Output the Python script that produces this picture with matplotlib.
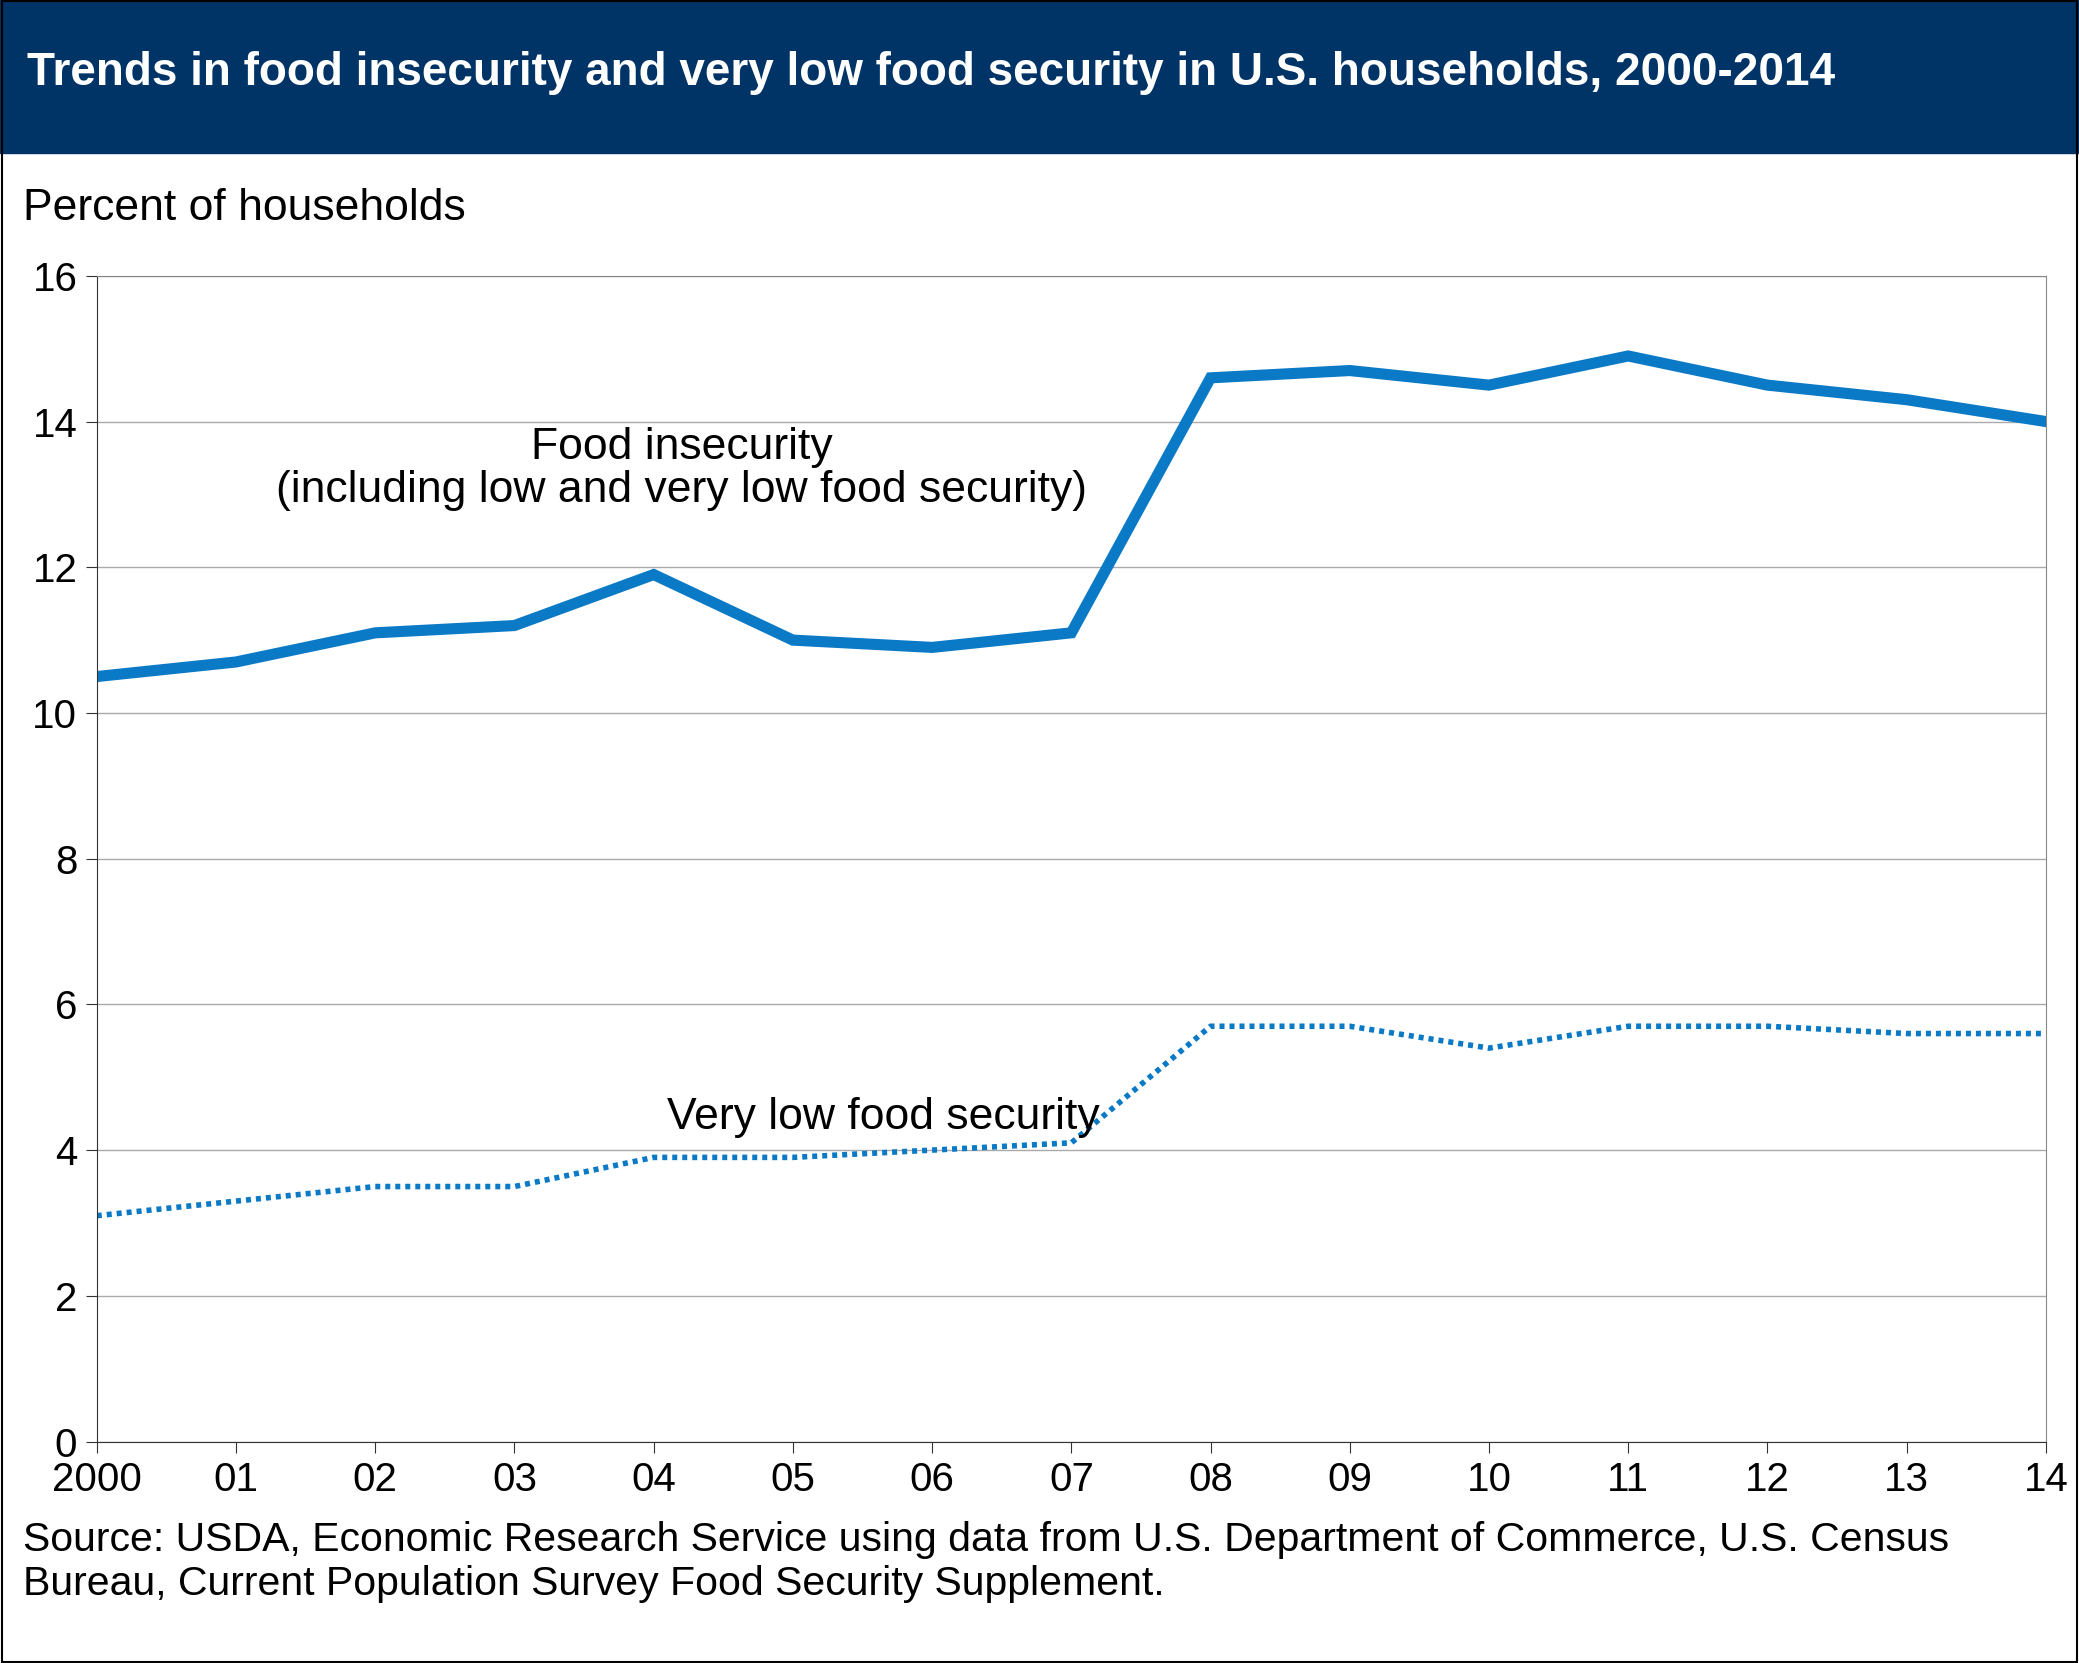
import matplotlib.pyplot as plt
from matplotlib.patches import Rectangle

plt.rcParams['font.family'] = ['Liberation Sans', 'DejaVu Sans']

years = list(range(2000, 2015))
year_labels = ['2000', '01', '02', '03', '04', '05', '06', '07', '08', '09',
               '10', '11', '12', '13', '14']
food_insecurity = [10.5, 10.7, 11.1, 11.2, 11.9, 11.0, 10.9, 11.1, 14.6, 14.7,
                   14.5, 14.9, 14.5, 14.3, 14.0]
very_low = [3.1, 3.3, 3.5, 3.5, 3.9, 3.9, 4.0, 4.1, 5.7, 5.7,
            5.4, 5.7, 5.7, 5.6, 5.6]

blue = '#0a79c6'
fig = plt.figure(figsize=(20.79, 16.63), dpi=100)

# title banner
fig.patches.append(Rectangle((0, 1 - 115 / 1254), 1, 115 / 1254, transform=fig.transFigure,
                             color='#003366', zorder=0))
fig.text(0.013, 1 - 55 / 1254, 'Trends in food insecurity and very low food security in U.S. households, 2000-2014',
         color='white', fontsize=33, fontweight='bold', va='center')
fig.patches.append(Rectangle((0.0008, 0.0008), 0.9984, 0.9984, transform=fig.transFigure,
                             fill=False, edgecolor='black', lw=1.5, zorder=5))

ax = fig.add_axes([73 / 1568, 1 - 1087 / 1254, (1543 - 73) / 1568, (1087 - 208) / 1254])
ax.plot(years, food_insecurity, color=blue, lw=8, solid_joinstyle='miter')
ax.plot(years, very_low, color=blue, lw=4, linestyle=(0, (0.9, 0.9)))

ax.set_xlim(2000, 2014)
ax.set_ylim(0, 16)
ax.set_yticks(range(0, 17, 2))
ax.set_xticks(years)
ax.set_xticklabels(year_labels)
ax.tick_params(labelsize=29, length=8, color='#333333', pad=6)
ax.grid(axis='y', color='#aaaaaa', lw=1)
ax.set_axisbelow(True)
for s in ['top', 'right']:
    ax.spines[s].set_color('#888888')
for s in ['left', 'bottom']:
    ax.spines[s].set_color('#333333')

ax.text(2004.2, 13.35, 'Food insecurity\n(including low and very low food security)', fontsize=32,
        ha='center', va='center', linespacing=1.05)
ax.text(2005.65, 4.45, 'Very low food security', fontsize=32, ha='center', va='center')

fig.text(0.011, 1 - 157 / 1254, 'Percent of households', fontsize=32, va='center')
fig.text(0.011, 1 - 1178 / 1254, 'Source: USDA, Economic Research Service using data from U.S. Department of Commerce, U.S. Census\n'
         'Bureau, Current Population Survey Food Security Supplement.',
         fontsize=29.5, va='center', linespacing=1.2)

fig.savefig('out.png', dpi=100)
